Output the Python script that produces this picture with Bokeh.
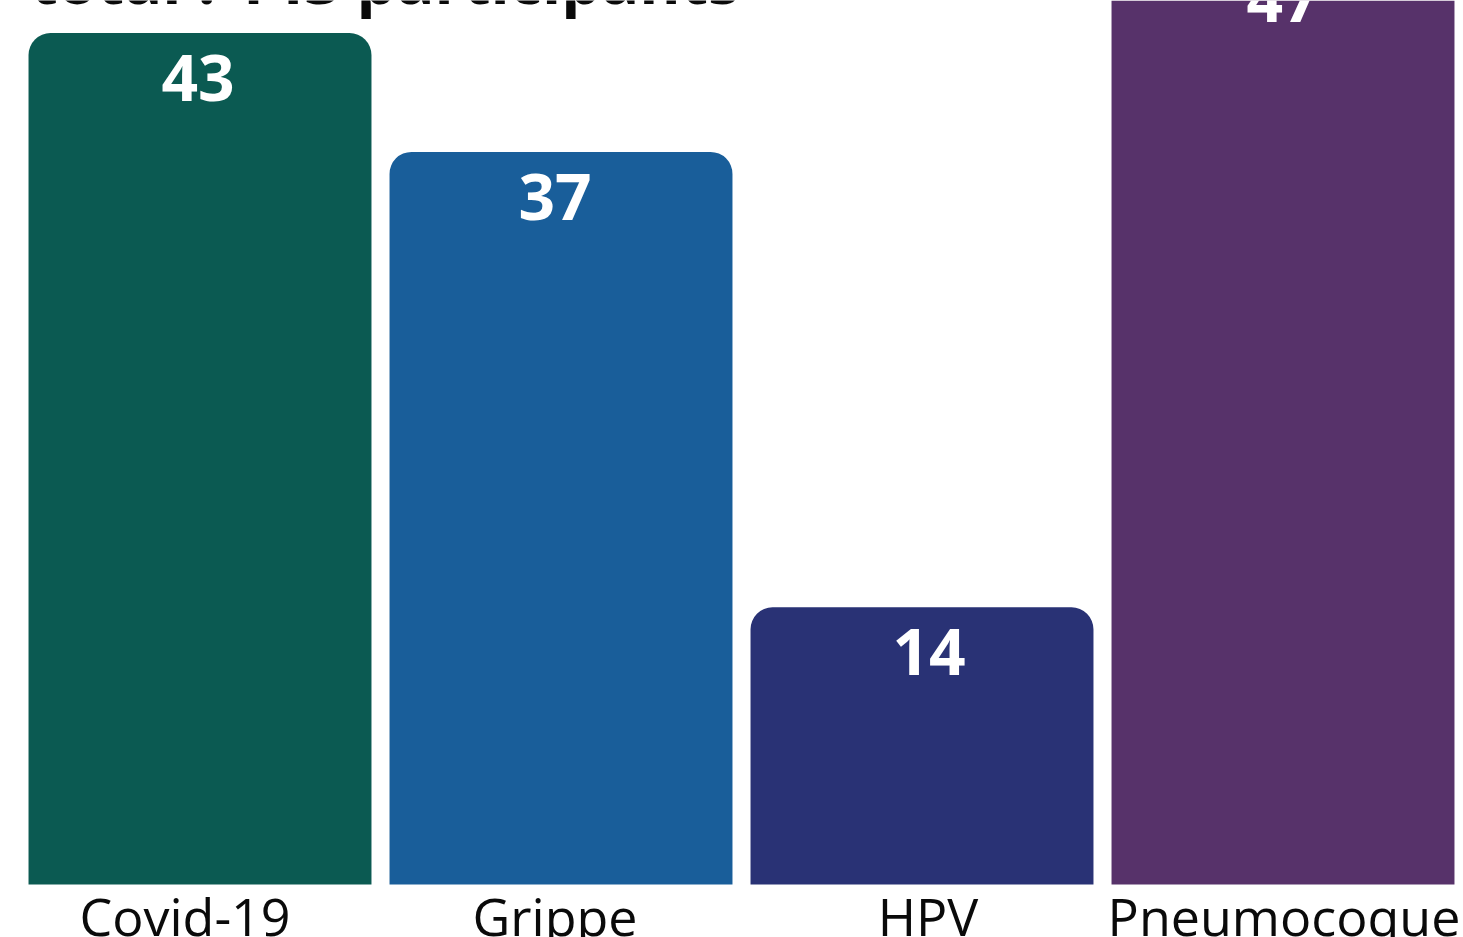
from bokeh.plotting import figure
from bokeh.models import Range1d, FactorRange, ColumnDataSource, Label, CDSView, BooleanFilter
from bokeh.core.properties import value
from bokeh.embed import file_html
from bokeh.resources import INLINE

# ---- data ----
categories = ["Covid-19", "Grippe", "HPV", "Pneumocoque"]
counts = [43, 37, 14, 47]
colors = ["#0b5a52", "#195e9a", "#293275", "#57326a"]
title_text = "total : 143 participants"

# ---- layout / style constants ----
W, H = 1463, 937
baseline_px = 884          # pixel row of the zero line (from top)
ppu = 19.8                 # pixels per count unit
y_start = -(H - baseline_px) / ppu
y_end = baseline_px / ppu
value_dx = [-2, -6, 7, 0]      # small horizontal nudges of value labels (px)
cat_dx = [-15, -6, 6, 1]       # small horizontal nudges of category labels (px)

src = ColumnDataSource(dict(
    cat=categories,
    count=counts,
    color=colors,
    label=[str(c) for c in counts],
    label_y=[c - 45 / ppu for c in counts],
    cat_y=[-31 / ppu] * len(categories),
    vdx=value_dx,
    cdx=cat_dx,
))

p = figure(width=W, height=H,
           x_range=FactorRange(*categories, range_padding=0),
           y_range=Range1d(y_start, y_end),
           x_axis_location=None, y_axis_location=None,
           toolbar_location=None, output_backend="svg",
           min_border_left=19, min_border_right=0,
           min_border_top=0, min_border_bottom=0,
           outline_line_color=None,
           background_fill_color="white", border_fill_color="white")
p.grid.grid_line_color = None

inside = [c <= y_end for c in counts]
outside = [not b for b in inside]
p.vbar(x="cat", top="count", bottom=0, width=0.95, source=src,
       view=CDSView(filter=BooleanFilter(inside)),
       fill_color="color", line_color=None, border_radius=(22, 22, 0, 0))
p.vbar(x="cat", top="count", bottom=0, width=0.95, source=src,
       view=CDSView(filter=BooleanFilter(outside)),
       fill_color="color", line_color=None)

p.text(x="cat", y="label_y", text="label", source=src, x_offset="vdx",
       text_font=value("Open Sans"), text_font_style="bold",
       text_font_size="64px", text_color="white",
       text_align="center", text_baseline="alphabetic")

p.text(x="cat", y="cat_y", text="cat", source=src, x_offset="cdx",
       text_font=value("Open Sans"), text_font_size="52px",
       text_color="#0a0a0a", text_align="center",
       text_baseline="alphabetic")

title = Label(x=(30 - 19) / 361.0, y=y_end + 21 / ppu, text=title_text,
              text_font="Open Sans", text_font_style="bold",
              text_font_size="63px", text_color="#0a0a0a",
              text_align="left", text_baseline="alphabetic")
p.add_layout(title)

open("out.html", "w").write(file_html(p, INLINE))
